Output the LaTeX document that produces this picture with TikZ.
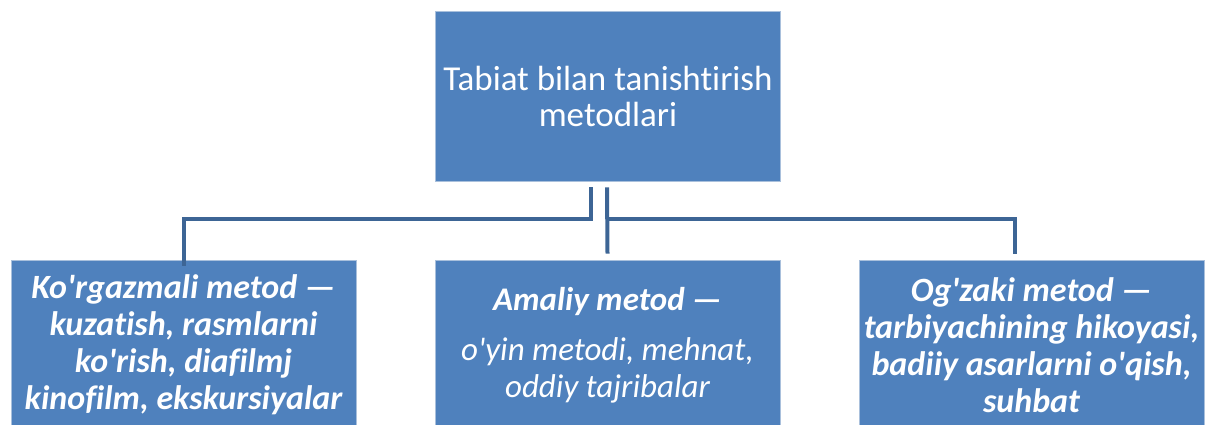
\documentclass[tikz,border=0pt]{standalone}
\usepackage{fontspec}
\setmainfont{Carlito}[Ligatures={TeXOff,CommonOff,ContextualOff},Contextuals={NoAlternate}]
\definecolor{boxblue}{HTML}{4F81BD}
\definecolor{boxedge}{HTML}{A9C0DC}
\definecolor{lineblue}{HTML}{3D6595}
\tikzset{
  box/.style={fill=boxblue, draw=boxedge, line width=0.8pt, text=white,
    minimum width=345pt, minimum height=170pt, align=center, inner sep=0pt},
  conn/.style={draw=lineblue, line width=4pt, line join=miter}
}
\begin{document}
\begin{tikzpicture}[x=1pt,y=-1pt]
\useasboundingbox (0,0) rectangle (1206,425);
\clip (0,0) rectangle (1206,425);
\node[box, font=\fontsize{35}{36}\selectfont] (top) at (608,96)
  {Tabiat bilan tanishtirish\\metodlari};
\node[box, font=\fontsize{34}{37}\selectfont\bfseries\itshape] (left) at (183.5,345)
  {Ko'rgazmali metod —\\kuzatish, rasmlarni\\ko'rish, diafilmj\\kinofilm, ekskursiyalar};
\node[box, font=\fontsize{33}{37}\selectfont\itshape] (mid) at (607.5,345)
  {\textbf{Amaliy metod —}\\[13pt]o'yin metodi, mehnat,\\oddiy tajribalar};
\node[box, font=\fontsize{34}{37}\selectfont\bfseries\itshape] (right) at (1031.5,345)
  {Og'zaki metod —\\tarbiyachining hikoyasi,\\badiiy asarlarni o'qish,\\suhbat};
\coordinate (jl) at (591,219);
\coordinate (jr) at (1015,219);
\draw[conn] ([xshift=-17pt,yshift=-6pt]top.south) -- (jl) -- (jl -| left.north) -- ([yshift=-6pt]left.north -| jl -| left.north);
\draw[conn] ([xshift=-1pt,yshift=-6pt]top.south) -- ([xshift=0pt,yshift=6pt]mid.north);
\draw[conn] (607,219) -- (jr) -- (1015,254);
\end{tikzpicture}
\end{document}
